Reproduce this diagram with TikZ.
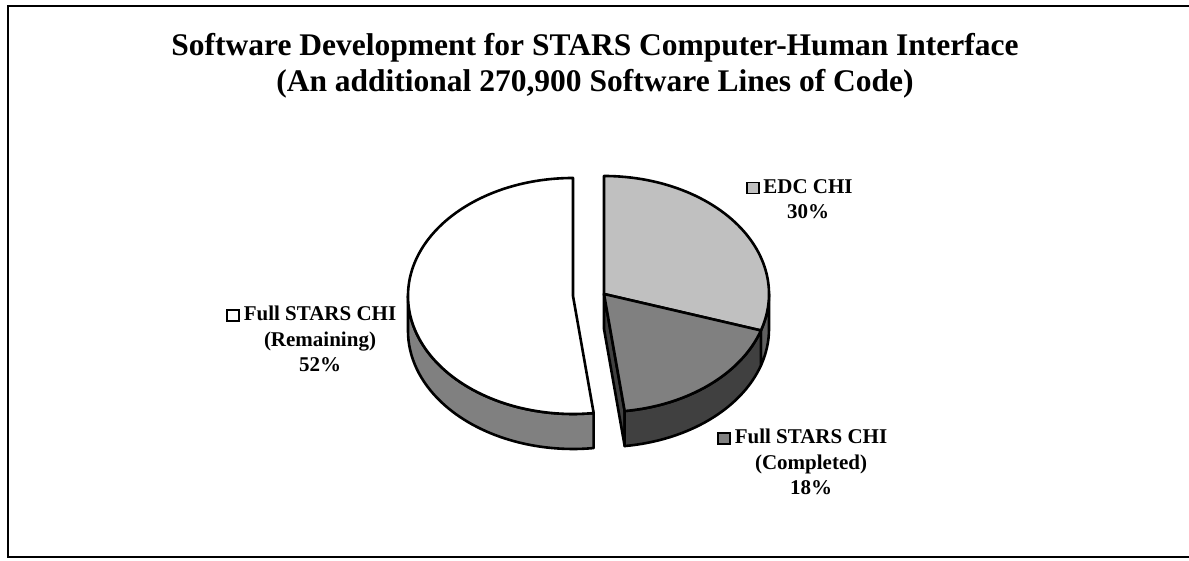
\documentclass[tikz,border=0pt]{standalone}
\usepackage{fontspec}
\setmainfont{Liberation Serif}
\usepackage{tikz}
\usetikzlibrary{calc}
\definecolor{edcgray}{HTML}{C0C0C0}
\definecolor{edcside}{HTML}{606060}
\definecolor{midgray}{HTML}{808080}
\definecolor{darkside}{HTML}{404040}
\def\rx{165}
\def\ry{118}
\def\dep{35}
\def\pieside[#1](#2)(#3:#4){\draw[#1] ($(#2)+(#3:\rx pt and \ry pt)$) arc[start angle=#3, end angle=#4, x radius=\rx pt, y radius=\ry pt] -- ++(0,-\dep pt) arc[start angle=#4, end angle=#3, x radius=\rx pt, y radius=\ry pt] -- cycle;}
\def\pietop[#1](#2)(#3:#4){\draw[#1] (#2) -- ($(#2)+(#3:\rx pt and \ry pt)$) arc[start angle=#3, end angle=#4, x radius=\rx pt, y radius=\ry pt] -- cycle;}
\tikzset{
  frame/.style={line width=2.5pt},
  slice/.style={line width=2.6pt, line join=round},
  title/.style={font=\bfseries\fontsize{31.5}{36.7}\selectfont, align=center, anchor=base, inner sep=0pt},
  lbl/.style={font=\bfseries\fontsize{21}{25.5}\selectfont, align=center, anchor=base, inner sep=0pt},
  key/.style={draw, line width=1.8pt, minimum width=12pt, minimum height=11pt, inner sep=0pt, outer sep=0pt, anchor=south east}
}

\begin{document}
\begin{tikzpicture}[x=1pt, y=1pt]
		\useasboundingbox (0,0) rectangle (1189,561);
		\draw[frame] (1192,555) -| (8,4) -- (1192,4);
		
		\node[title] (title) at (595, 469) {Software Development for STARS Computer-Human Interface\\(An additional 270,900 Software Lines of Code)};
		
		\coordinate (cw) at (573, 265);
		\coordinate (cr) at (604, 267);
		
		% remaining part, pulled out
		\pieside[slice, fill=midgray](cw)(180:277.2)
		\pietop[slice, fill=white](cw)(90:277.2)
		
		% cut face of the completed part
		\draw[slice, fill=darkside] (cr) -- ($(cr)+(-82.8:\rx pt and \ry pt)$) -- ++(0,-\dep pt) -- ($(cr)+(0,-\dep pt)$) -- cycle;
		\pieside[slice, fill=edcside](cr)(0:-18)
		\pieside[slice, fill=darkside](cr)(-18:-82.8)
		\pietop[slice, fill=edcgray](cr)(90:-18)
		\pietop[slice, fill=midgray](cr)(-18:-82.8)
		
		% labels (base = last line)
		\node[lbl] (edc) at (808, 342) {EDC CHI\\30\%};
		\node[key, fill=edcgray] (edckey) at ([xshift=-4.5pt, yshift=25.5pt]edc.base west) {};
		
		\node[lbl] (remaining) at (320, 189) {Full STARS CHI\\(Remaining)\\52\%};
		\node[key, fill=white] (remainingkey) at ([xshift=-4.5pt, yshift=51pt]remaining.base west) {};
		
		\node[lbl] (completed) at (811, 66) {Full STARS CHI\\(Completed)\\18\%};
		\node[key, fill=midgray] (completedkey) at ([xshift=-4.5pt, yshift=51pt]completed.base west) {};
\end{tikzpicture}
\end{document}
